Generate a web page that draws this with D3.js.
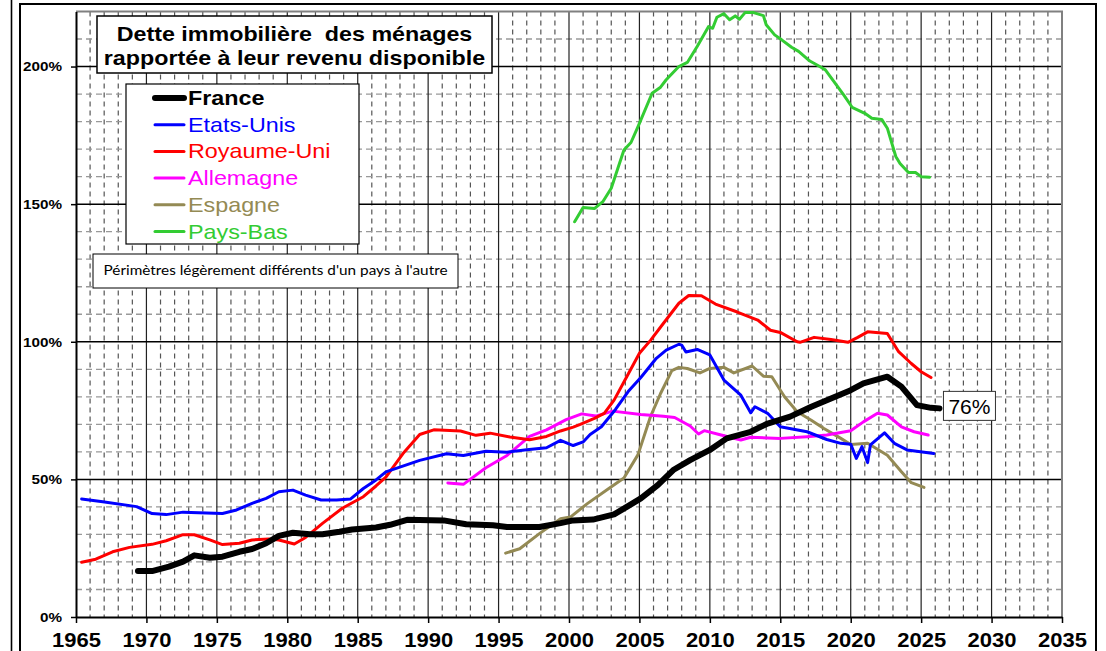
<!DOCTYPE html>
<html>
<head>
<meta charset="utf-8">
<script src="https://cdn.jsdelivr.net/npm/d3@7"></script>
<style>
  body { margin: 0; background: #fff; }
  svg { display: block; font-family: "Liberation Sans", Arial, sans-serif; }
</style>
</head>
<body>
<svg id="chart" width="1106" height="651"></svg>
<script>
// values: [year, % of disposable income]
var france = [[1969.4,16.7],[1970.4,16.7],[1971.6,18.3],[1972.6,20.1],[1973.4,22.4],[1974.5,21.5],[1975.4,21.9],[1976.6,23.7],[1977.5,24.7],[1978.5,26.8],[1979.4,29.5],[1980.4,30.6],[1981.6,30.1],[1982.5,30.1],[1983.7,31],[1984.6,31.8],[1986.3,32.5],[1987.3,33.5],[1988.5,35.3],[1991.1,35.1],[1992.7,33.7],[1994.6,33.3],[1995.6,32.7],[1997.9,32.7],[1999.4,34.1],[2000.3,35.1],[2001.7,35.4],[2003.2,37.3],[2004.1,40],[2005.1,43.1],[2006.3,47.9],[2007.4,53.4],[2008.6,57],[2010,60.7],[2011.2,64.9],[2012.9,67.3],[2014.1,70.3],[2015.7,72.8],[2017.2,76.4],[2018.6,79.4],[2020,82.4],[2020.9,84.9],[2022.6,87.3],[2023.6,83.7],[2024.7,77],[2025.7,76],[2026.3,75.8]];
var etatsUnis = [[1965.4,42.9],[1966.9,41.9],[1969.3,40.1],[1970.4,37.6],[1971.4,37.2],[1972.6,38.1],[1975.4,37.6],[1976.4,38.9],[1977.5,41.3],[1978.5,43.1],[1979.4,45.5],[1980.4,46.1],[1981.3,44.3],[1982.4,42.5],[1983.5,42.5],[1984.5,42.9],[1985.4,46.7],[1986.3,49.8],[1987,52.7],[1989.4,56.9],[1991.3,59.3],[1992.5,58.7],[1994.1,60.2],[1995.6,59.9],[1997,60.8],[1998.4,61.5],[1999.4,64.2],[2000.3,62.3],[2001,63.6],[2001.5,66.3],[2002.3,69.1],[2003.3,75.4],[2004.2,81.9],[2005.1,87],[2006.2,94],[2006.9,97],[2007.8,99.1],[2008,98.8],[2008.3,96.3],[2009.1,97.2],[2010,95.2],[2011,86.1],[2012.2,80.6],[2012.9,74.2],[2013.2,76.4],[2014.1,74],[2015,69.1],[2016.9,67.3],[2018.3,64.5],[2019.3,63.1],[2020,62.8],[2020.4,57.6],[2020.8,61.9],[2021.2,56.1],[2021.4,62.5],[2022.4,66.9],[2023.1,63.1],[2024,60.7],[2025.9,59.4]];
var royaumeUni = [[1965.4,19.9],[1966.4,21],[1967.6,23.7],[1968.8,25.3],[1970.4,26.4],[1971.4,27.7],[1972.6,29.9],[1973.4,29.9],[1974.5,28],[1975.4,26.3],[1976.6,26.8],[1977.5,28],[1978.7,28.3],[1979.4,28],[1980.5,26.5],[1981.3,28.9],[1982.5,34],[1983.9,39.5],[1985.4,43.7],[1986.3,47.6],[1987,50.8],[1988.2,59.3],[1989.4,66.3],[1990.4,68],[1992.3,67.6],[1993.4,66],[1994.4,66.8],[1995.8,65.4],[1997.2,64.4],[1998.4,65.6],[1999.4,67.6],[2000.3,69],[2000.8,70],[2001.8,72.2],[2002.5,74],[2003.2,78.8],[2004.1,87.3],[2005,95.8],[2005.8,100.6],[2006.6,106],[2007.8,114],[2008.5,116.8],[2009.4,116.7],[2010.4,113.7],[2011.9,110.9],[2013.4,107.9],[2014.3,104.2],[2015,103.4],[2016.2,100],[2016.4,99.8],[2017.4,101.6],[2018.6,100.8],[2019.8,99.8],[2020.5,101.6],[2021.2,103.6],[2022.6,103],[2023.4,96.4],[2024.3,92.1],[2025,89.1],[2025.7,87]];
var allemagne = [[1991.4,48.7],[1992.5,48.2],[1994.1,54.2],[1995.6,58.7],[1997.2,65.6],[1998.4,68],[1999.8,71.7],[2000.9,73.8],[2001.9,73],[2003.1,74.8],[2005.1,73.6],[2006.7,72.9],[2007.5,72.5],[2008.6,69.4],[2009.2,66.5],[2009.6,67.7],[2010.8,66.1],[2012.2,64.3],[2012.9,65.3],[2015,64.9],[2016.9,65.5],[2018.3,66.1],[2020,67.7],[2020.9,70.9],[2021.9,74],[2022.6,73.4],[2023.6,69.1],[2024.5,67.3],[2025.5,66.1]];
var espagne = [[1995.5,23.2],[1996.5,24.8],[1997.9,30.3],[1999.4,35.7],[2000.1,36.3],[2001.3,41.2],[2002.7,46.2],[2003.9,50.5],[2004.9,59],[2005.8,73],[2006.5,81.2],[2007.3,89.5],[2007.8,90.7],[2008.4,90.3],[2009.3,88.7],[2010,90.3],[2011,90.7],[2011.7,88.7],[2013,91.2],[2013.8,87.5],[2014.4,87.3],[2015.3,80],[2016.2,74.6],[2017.2,71.5],[2018.1,68.5],[2019.3,64.9],[2020,62.7],[2021.2,63.1],[2022.6,58.8],[2023.6,52.8],[2024.3,48.8],[2025.2,47.1]];
var paysBas = [[2000.4,143.6],[2001,148.8],[2001.8,148.4],[2002.4,150.9],[2003,155.8],[2003.9,169.7],[2004.4,172.4],[2004.9,178.2],[2005.9,190.3],[2006.5,192.5],[2006.9,195.2],[2007.8,200],[2008.4,201.5],[2009.1,207.3],[2009.9,214.5],[2010.2,213.9],[2010.5,217.9],[2011,219.2],[2011.4,217],[2011.8,218.4],[2012.1,217.2],[2012.5,219.6],[2013.1,219.6],[2013.8,218.5],[2014,215.2],[2014.6,211.5],[2015.1,209.7],[2015.8,207],[2016.3,205.5],[2017.1,202],[2017.8,200],[2018.2,198.8],[2019.5,189.7],[2020.1,185.2],[2021,183],[2021.5,181.2],[2022.2,180.8],[2022.6,177.6],[2023.2,167.3],[2023.5,164.8],[2024.1,161.5],[2024.6,161.5],[2025,160],[2025.6,159.8]];

var legendNames = ["France", "Etats-Unis", "Royaume-Uni", "Allemagne", "Espagne", "Pays-Bas"];
var legendColors = ["#000000", "#0000ff", "#ff0000", "#ff00ff", "#948a54", "#33cc33"];
var titleLines = ["Dette immobilière  des ménages", "rapportée à leur revenu disponible"];
var noteText = "Périmètres légèrement différents d'un pays à l'autre";
var lastLabel = "76%";

// the source picture is a bit wider than tall, so text is stretched sideways
var stretch = function(sel, k) {
  sel.each(function() {
    var w = this.getComputedTextLength();
    d3.select(this).attr("textLength", w * k).attr("lengthAdjust", "spacingAndGlyphs");
  });
};

var svg = d3.select("#chart");
var x = d3.scaleLinear().domain([1965, 2035]).range([76, 1062]);
var y = d3.scaleLinear().domain([0, 220]).range([617, 11.5]);

// outer frame (the picture is a crop of a larger page)
svg.append("line").attr("x1", 11.5).attr("x2", 11.5).attr("y1", 0).attr("y2", 651)
  .attr("stroke", "#000").attr("stroke-width", 1.6);
svg.append("rect").attr("x", 20).attr("y", 4).attr("width", 1076).attr("height", 700)
  .attr("fill", "none").attr("stroke", "#000").attr("stroke-width", 2);

var grid = svg.append("g");
// minor grid: dashed every year / every 10%
grid.selectAll(".vmin").data(d3.range(1966, 2035).filter(function(d) { return d % 5 !== 0; }))
  .enter().append("line")
  .attr("x1", function(d) { return x(d); }).attr("x2", function(d) { return x(d); })
  .attr("y1", y(220)).attr("y2", y(0))
  .attr("stroke", "#555").attr("stroke-width", 1.2).attr("stroke-dasharray", "5,4");
grid.selectAll(".hmin").data(d3.range(10, 220, 10).filter(function(d) { return d % 50 !== 0; }))
  .enter().append("line")
  .attr("x1", x(1965)).attr("x2", x(2035))
  .attr("y1", function(d) { return y(d); }).attr("y2", function(d) { return y(d); })
  .attr("stroke", "#999").attr("stroke-width", 1.3).attr("stroke-dasharray", "6,4");
// major grid
grid.selectAll(".vmaj").data(d3.range(1970, 2035, 5))
  .enter().append("line")
  .attr("x1", function(d) { return x(d); }).attr("x2", function(d) { return x(d); })
  .attr("y1", y(220)).attr("y2", y(0))
  .attr("stroke", "#222").attr("stroke-width", 1.2);
grid.selectAll(".hmaj").data([50, 100, 150, 200])
  .enter().append("line")
  .attr("x1", x(1965)).attr("x2", x(2035))
  .attr("y1", function(d) { return y(d); }).attr("y2", function(d) { return y(d); })
  .attr("stroke", "#000").attr("stroke-width", 1.5);
// plot border top/right
svg.append("path")
  .attr("d", "M" + x(1965) + "," + y(220) + "H" + x(2035) + "V" + y(0))
  .attr("fill", "none").attr("stroke", "#808080").attr("stroke-width", 2);

// axes
var xAxis = svg.append("g").attr("transform", "translate(0," + y(0) + ")")
  .call(d3.axisBottom(x).tickValues(d3.range(1965, 2036, 5)).tickFormat(d3.format("d")).tickSize(6).tickSizeOuter(0));
xAxis.select(".domain").attr("stroke-width", 2);
xAxis.selectAll(".tick line").attr("stroke-width", 1.5);
xAxis.selectAll("text")
  .attr("y", 30).attr("dy", 0)
  .style("font-family", "'Liberation Sans Narrow', 'Arial Narrow', sans-serif")
  .style("font-weight", "bold").style("font-size", "20px").attr("fill", "#000");
stretch(xAxis.selectAll("text"), 1.1);

var yAxis = svg.append("g").attr("transform", "translate(" + x(1965) + ",0)")
  .call(d3.axisLeft(y).tickValues([0, 50, 100, 150, 200]).tickFormat(function(d) { return d + "%"; }).tickSize(5).tickSizeOuter(0));
yAxis.select(".domain").attr("stroke-width", 2);
yAxis.selectAll(".tick line").attr("stroke-width", 1.5);
yAxis.selectAll("text")
  .attr("x", -14)
  .style("font-weight", "bold").style("font-size", "13.5px").attr("fill", "#000");
stretch(yAxis.selectAll("text"), 1.13);

// series
var line = d3.line().x(function(d) { return x(d[0]); }).y(function(d) { return y(d[1]); });
var series = [
  { data: paysBas, color: legendColors[5], w: 3 },
  { data: espagne, color: legendColors[4], w: 3 },
  { data: allemagne, color: legendColors[3], w: 3 },
  { data: royaumeUni, color: legendColors[2], w: 3 },
  { data: etatsUnis, color: legendColors[1], w: 3 },
  { data: france, color: legendColors[0], w: 6 }
];
svg.append("g").selectAll("path").data(series).enter().append("path")
  .attr("d", function(d) { return line(d.data); })
  .attr("fill", "none")
  .attr("stroke", function(d) { return d.color; })
  .attr("stroke-width", function(d) { return d.w; })
  .attr("stroke-linejoin", "round").attr("stroke-linecap", "round");

// title box
svg.append("rect").attr("x", 97).attr("y", 16).attr("width", 395).attr("height", 57)
  .attr("fill", "#fff").attr("stroke", "#000").attr("stroke-width", 1.5);
var titles = svg.selectAll(".title").data(titleLines).enter().append("text")
  .attr("x", 294.5).attr("y", function(d, i) { return 41 + i * 24; })
  .attr("text-anchor", "middle").style("font-weight", "bold").style("font-size", "20.5px")
  .style("white-space", "pre")
  .text(function(d) { return d; });
stretch(titles, 1.135);

// legend
var lg = svg.append("g");
lg.append("rect").attr("x", 126).attr("y", 84).attr("width", 233).attr("height", 160)
  .attr("fill", "#fff").attr("stroke", "#000").attr("stroke-width", 1.2);
var item = lg.selectAll(".item").data(legendNames).enter().append("g")
  .attr("transform", function(d, i) { return "translate(0," + (105 + i * 26.7) + ")"; });
item.append("line").attr("x1", 155).attr("x2", 184).attr("y1", -7).attr("y2", -7)
  .attr("stroke", function(d, i) { return legendColors[i]; })
  .attr("stroke-width", function(d, i) { return i === 0 ? 6 : 3; })
  .attr("stroke-linecap", "round");
var itemText = item.append("text").attr("x", 188).attr("y", 0)
  .style("font-size", "21px")
  .style("font-weight", function(d, i) { return i === 0 ? "bold" : "normal"; })
  .attr("fill", function(d, i) { return legendColors[i]; })
  .text(function(d) { return d; });
stretch(itemText, 1.11);

// note box
svg.append("rect").attr("x", 93).attr("y", 254).attr("width", 365).attr("height", 34)
  .attr("fill", "#fff").attr("stroke", "#000").attr("stroke-width", 1);
svg.append("text").attr("x", 275.5).attr("y", 275).attr("text-anchor", "middle")
  .style("font-family", "Lato, 'Open Sans', sans-serif").style("font-size", "14px")
  .attr("textLength", 344).attr("lengthAdjust", "spacingAndGlyphs")
  .text(noteText);

// last value label
var last = france[france.length - 1];
svg.append("rect").attr("x", x(last[0]) + 4).attr("y", y(last[1]) - 17).attr("width", 52).attr("height", 29)
  .attr("fill", "#fff").attr("stroke", "#333").attr("stroke-width", 1);
svg.append("text").attr("x", x(last[0]) + 30).attr("y", y(last[1]) + 6).attr("text-anchor", "middle")
  .style("font-size", "21px").text(lastLabel);
</script>
</body>
</html>
